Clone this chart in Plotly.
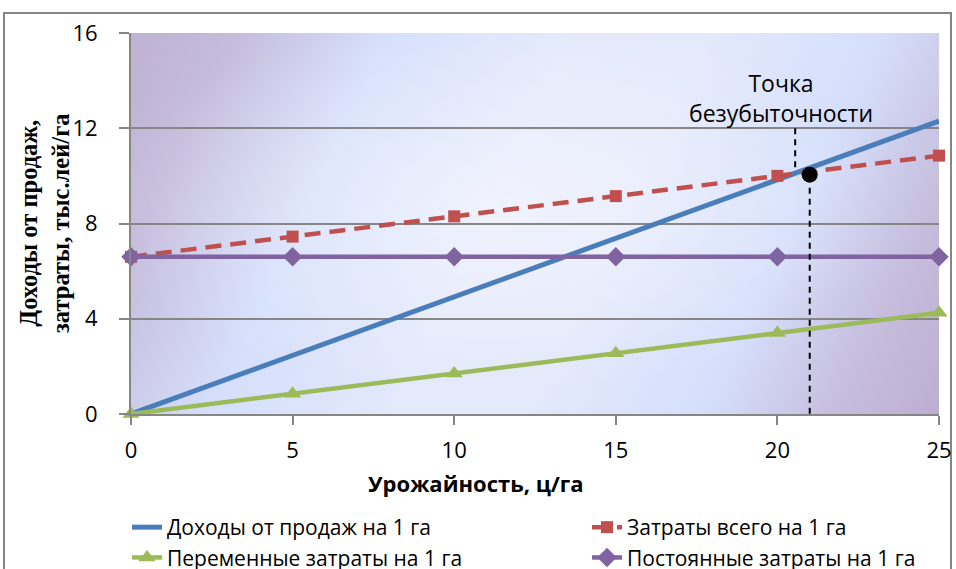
import base64
import plotly.graph_objects as go

# ---- data ----
yield_x = [0, 5, 10, 15, 20, 25]
revenue = [0, 2.46, 4.92, 7.38, 9.84, 12.3]
total_cost = [6.6, 7.45, 8.3, 9.15, 10.0, 10.85]
variable_cost = [0, 0.85, 1.7, 2.55, 3.4, 4.25]
fixed_cost = [6.6, 6.6, 6.6, 6.6, 6.6, 6.6]
series_names = [
    "Доходы от продаж на 1 га",
    "Затраты всего на 1 га",
    "Переменные затраты на 1 га",
    "Постоянные затраты на 1 га",
]
breakeven_x = [21]
breakeven_y = [10.05]
guide_upper_x = [20.55, 20.55]
guide_upper_y = [12.0, 10.2]
guide_lower_x = [21, 21]
guide_lower_y = [9.5, 0]
x_ticks = [0, 5, 10, 15, 20, 25]
y_ticks = [0, 4, 8, 12, 16]
breakeven_label = "Точка<br>безубыточности"
x_title = "Урожайность, ц/га"
y_title = "Доходы от продаж,<br>затраты, тыс.лей/га"

# ---- layout geometry (pixels) ----
W, H = 956, 569
ML, MR, MT, MB = 131, 17, 33, 155
PW, PH = W - ML - MR, H - MT - MB


def px_x(p):
    return (p - ML) / PW


def px_y(p):
    return (H - MB - p) / PH


# ---- plot area gradient background ----
svg = (
    '<svg xmlns="http://www.w3.org/2000/svg" width="808" height="381" '
    'viewBox="0 0 808 381" preserveAspectRatio="none"><defs>'
    '<linearGradient id="g" gradientUnits="userSpaceOnUse" x1="0" y1="0" x2="808" y2="381">'
    '<stop offset="0" stop-color="#bfb2d3"/>'
    '<stop offset="0.1" stop-color="#c5bbdb"/>'
    '<stop offset="0.26" stop-color="#d5dffb"/>'
    '<stop offset="0.45" stop-color="#e4e9fb"/>'
    '<stop offset="0.58" stop-color="#e4e9fb"/>'
    '<stop offset="0.76" stop-color="#d5dffb"/>'
    '<stop offset="0.9" stop-color="#c6bcdc"/>'
    '<stop offset="1" stop-color="#bdaed1"/>'
    '</linearGradient>'
    '<radialGradient id="r" cx="0.45" cy="0.45" r="0.5">'
    '<stop offset="0" stop-color="#ffffff" stop-opacity="0.45"/>'
    '<stop offset="1" stop-color="#ffffff" stop-opacity="0"/>'
    '</radialGradient></defs>'
    '<rect width="808" height="381" fill="url(#g)"/>'
    '<rect width="808" height="381" fill="url(#r)"/></svg>'
)
bg_uri = "data:image/svg+xml;base64," + base64.b64encode(svg.encode()).decode()

BLUE, RED, GREEN, PURPLE = "#4a7ebb", "#c0504d", "#9bbb59", "#8064a2"
SANS = "Open Sans, Arial, sans-serif"

fig = go.Figure()
fig.add_trace(go.Scatter(
    x=yield_x, y=revenue, name=series_names[0], mode="lines",
    line=dict(color=BLUE, width=5), cliponaxis=False))
fig.add_trace(go.Scatter(
    x=yield_x, y=total_cost, name=series_names[1], mode="lines+markers",
    line=dict(color=RED, width=4.5, dash="16px,9px"),
    marker=dict(symbol="square", size=12, color=RED), cliponaxis=False))
fig.add_trace(go.Scatter(
    x=yield_x, y=variable_cost, name=series_names[2], mode="lines+markers",
    line=dict(color=GREEN, width=4.5),
    marker=dict(symbol="triangle-up", size=15, color=GREEN), cliponaxis=False))
fig.add_trace(go.Scatter(
    x=yield_x, y=fixed_cost, name=series_names[3], mode="lines+markers",
    line=dict(color=PURPLE, width=4.5),
    marker=dict(symbol="diamond", size=15, color=PURPLE), cliponaxis=False))

# break-even guides and point
fig.add_trace(go.Scatter(
    x=guide_upper_x, y=guide_upper_y, mode="lines", showlegend=False,
    line=dict(color="black", width=2, dash="6px,5px"), hoverinfo="skip"))
fig.add_trace(go.Scatter(
    x=guide_lower_x, y=guide_lower_y, mode="lines", showlegend=False,
    line=dict(color="black", width=2, dash="6px,5px"), hoverinfo="skip"))
fig.add_trace(go.Scatter(
    x=breakeven_x, y=breakeven_y, mode="markers", showlegend=False,
    marker=dict(color="black", size=16), cliponaxis=False))

fig.update_layout(
    width=W, height=H,
    margin=dict(l=ML, r=MR, t=MT, b=MB, autoexpand=False),
    paper_bgcolor="white",
    plot_bgcolor="rgba(0,0,0,0)",
    font=dict(family=SANS, color="black", size=19),
    images=[dict(source=bg_uri, xref="paper", yref="paper", x=0, y=1,
                 sizex=1, sizey=1, sizing="stretch", layer="below")],
    xaxis=dict(
        range=[0, 25], tickvals=x_ticks, showgrid=False, zeroline=False,
        showline=True, linecolor="#868686", linewidth=2,
        ticks="outside", ticklen=9, tickwidth=2, tickcolor="#868686",
        ticklabelstandoff=7, tickfont=dict(size=22, family=SANS)),
    yaxis=dict(
        range=[0, 16], tickvals=y_ticks, showgrid=True, gridcolor="#868686",
        gridwidth=2, zeroline=False, showline=True, linecolor="#868686",
        linewidth=2, ticks="outside", ticklen=10, tickwidth=2,
        tickcolor="#868686", ticklabelstandoff=17,
        tickfont=dict(size=22, family=SANS)),
    legend=dict(
        orientation="h", x=px_x(127), y=px_y(507), xanchor="left",
        yanchor="top", entrywidth=415, entrywidthmode="pixels",
        font=dict(size=21, family=SANS), bgcolor="rgba(0,0,0,0)",
        tracegroupgap=0),
    shapes=[dict(type="rect", xref="paper", yref="paper",
                 x0=px_x(4), x1=px_x(951), y0=px_y(13), y1=px_y(640),
                 line=dict(color="#868686", width=2), layer="below")],
    annotations=[
        dict(text=breakeven_label, x=20.1, y=13.25, xref="x", yref="y",
             xanchor="center", yanchor="middle",
             showarrow=False, font=dict(size=23, family=SANS)),
        dict(text=x_title, x=px_x(476), y=px_y(483), xref="paper",
             yref="paper", xanchor="center", yanchor="middle",
             showarrow=False,
             font=dict(size=22, family=SANS, weight="bold")),
        dict(text=y_title, x=px_x(44), y=px_y(223), xref="paper",
             yref="paper", xanchor="center", yanchor="middle",
             showarrow=False, textangle=-90,
             font=dict(size=24.5, family="Liberation Serif, Times New Roman, serif",
                       weight="bold")),
    ],
)

fig.write_html(
    "out.html",
    config={"displayModeBar": False},
    post_script="document.body.style.margin='0';document.body.style.overflow='hidden';",
)
